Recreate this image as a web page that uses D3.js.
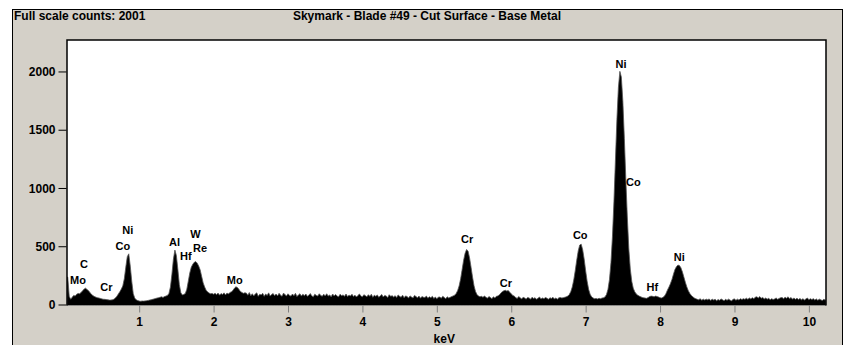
<!DOCTYPE html>
<html>
<head>
<meta charset="utf-8">
<script src="https://cdn.jsdelivr.net/npm/d3@7"></script>
<style>
  html, body { margin: 0; padding: 0; background: #fff; }
  svg text { font-family: "Liberation Sans Narrow", "Arial Narrow", "Liberation Sans", sans-serif; font-weight: bold; font-size: 12px; fill: #000; }
  svg .peak-label { font-size: 11px; }
</style>
</head>
<body>
<div id="chart"></div>
<script>
// EDS spectrum, channel width 0.02 keV starting at 0.04 keV (one row = 0.2 keV)
const kevStart = 0.04;
const kevStep = 0.02;
const counts = [
  235, 70, 45, 62, 78, 72, 88, 95, 92, 104,
  118, 132, 140, 128, 118, 100, 88, 75, 68, 62,
  58, 55, 52, 48, 45, 44, 42, 40, 38, 38,
  40, 45, 55, 70, 90, 110, 132, 160, 220, 320,
  410, 435, 330, 200, 95, 55, 40, 34, 30, 28,
  30, 29, 31, 33, 35, 38, 40, 44, 48, 52,
  55, 58, 62, 66, 61, 68, 72, 78, 95, 150,
  260, 390, 467, 420, 300, 170, 100, 82, 86, 95,
  130, 200, 270, 320, 345, 362, 368, 355, 330, 296,
  240, 185, 150, 122, 108, 98, 92, 95, 88, 96,
  84, 98, 80, 94, 86, 100, 82, 98, 90, 104,
  108, 122, 140, 152, 146, 130, 112, 104, 96, 100,
  98, 80, 102, 76, 92, 74, 90, 100, 70, 88,
  82, 96, 70, 90, 78, 100, 72, 86, 94, 76,
  90, 74, 96, 80, 70, 98, 84, 74, 92, 78,
  72, 90, 76, 96, 68, 82, 92, 72, 88, 76,
  90, 70, 80, 94, 74, 66, 88, 78, 72, 92,
  78, 70, 88, 74, 92, 72, 82, 66, 90, 74,
  86, 72, 66, 88, 76, 82, 70, 90, 68, 80,
  74, 88, 68, 80, 64, 78, 90, 72, 66, 84,
  76, 66, 84, 70, 88, 62, 80, 70, 82, 62,
  74, 86, 64, 78, 72, 60, 84, 70, 76, 64,
  76, 60, 82, 70, 62, 80, 58, 74, 68, 56,
  74, 64, 56, 78, 68, 58, 72, 54, 68, 62,
  60, 72, 54, 66, 58, 70, 52, 64, 50, 62,
  64, 54, 70, 60, 50, 66, 56, 62, 68, 74,
  80, 95, 120, 160, 220, 300, 380, 440, 472, 458,
  400, 320, 235, 160, 112, 85, 72, 66, 70, 62,
  72, 62, 54, 68, 60, 50, 66, 56, 70, 74,
  82, 98, 110, 118, 122, 115, 120, 105, 92, 78,
  72, 60, 52, 68, 58, 48, 62, 56, 46, 60,
  56, 46, 62, 52, 58, 44, 54, 64, 48, 56,
  50, 60, 54, 44, 58, 52, 62, 48, 56, 46,
  57, 60, 56, 59, 62, 66, 72, 85, 110, 150,
  210, 290, 380, 460, 510, 518, 470, 390, 290, 200,
  130, 88, 66, 56, 50, 52, 48, 53, 50, 55,
  57, 65, 86, 130, 214, 359, 581, 882, 1235, 1587,
  1863, 2001, 1951, 1744, 1426, 1073, 751, 480, 304, 198,
  139, 109, 91, 80, 72, 66, 61, 57, 55, 53,
  60, 68, 72, 70, 66, 72, 68, 64, 58, 56,
  62, 72, 95, 125, 150, 180, 215, 260, 300, 325,
  338, 335, 315, 280, 235, 190, 150, 118, 95, 78,
  66, 56, 50, 44, 40, 50, 36, 46, 38, 46,
  40, 48, 34, 46, 38, 44, 32, 42, 36, 48,
  40, 32, 44, 36, 46, 38, 30, 44, 48, 36,
  46, 38, 50, 42, 50, 44, 54, 44, 56, 48,
  58, 50, 62, 66, 56, 68, 54, 60, 48, 56,
  46, 54, 40, 50, 42, 48, 56, 44, 52, 58,
  60, 50, 62, 54, 66, 50, 60, 46, 56, 44,
  54, 42, 52, 40, 50, 38, 48, 56, 40, 50,
  42, 50, 38, 48, 36, 46, 40, 34, 44, 38
];

// element labels: [symbol, keV, counts at text baseline]
const peakLabels = [
  ["Mo", 0.178, 176],
  ["C", 0.259, 313],
  ["Cr", 0.56, 116],
  ["Ni", 0.847, 601],
  ["Co", 0.78, 468],
  ["Al", 1.475, 500],
  ["Hf", 1.627, 386],
  ["W", 1.757, 572],
  ["Re", 1.818, 448],
  ["Mo", 2.284, 180],
  ["Cr", 5.407, 532],
  ["Cr", 5.927, 150],
  ["Co", 6.927, 560],
  ["Ni", 7.475, 2032],
  ["Co", 7.64, 1021],
  ["Hf", 7.895, 114],
  ["Ni", 8.258, 372]
];

const yTicks = [0, 500, 1000, 1500, 2000];
const xTicks = [1, 2, 3, 4, 5, 6, 7, 8, 9, 10];
const fullScale = 2001;
const title = "Skymark - Blade #49 - Cut Surface - Base Metal";
const xLabel = "keV";

////////////////////////////////////////////////////////////////////////////////////

const width = 845;
const height = 345;
const plot = { left: 67, right: 826, top: 40, bottom: 304.5 };

const svg = d3.select("#chart").append("svg").attr("width", width).attr("height", height);

// grey window panel
svg.append("rect")
  .attr("x", 12.5).attr("y", 9.5)
  .attr("width", 830).attr("height", 340)
  .attr("fill", "#d4d0c8")
  .attr("stroke", "#000")
  .attr("stroke-width", 1);

svg.append("rect")
  .attr("x", plot.left).attr("y", plot.top)
  .attr("width", plot.right - plot.left).attr("height", plot.bottom - plot.top + 1)
  .attr("fill", "#fff");

const x = d3.scaleLinear().domain([0.03, 10.23]).range([plot.left, plot.right]);
const y = d3.scaleLinear().domain([0, 2270]).range([plot.bottom, plot.top]);

const spectrum = counts.map((c, i) => ({ kev: kevStart + i * kevStep, c: c }));

svg.append("clipPath").attr("id", "clip")
  .append("rect")
  .attr("x", plot.left).attr("y", plot.top)
  .attr("width", plot.right - plot.left).attr("height", plot.bottom - plot.top + 1);

const area = d3.area()
  .x((d) => x(d.kev))
  .y0(y(0) + 1)
  .y1((d) => y(d.c));

svg.append("path")
  .datum([{ kev: 0.03, c: counts[0] }].concat(spectrum, [{ kev: 10.23, c: counts[counts.length - 1] }]))
  .attr("clip-path", "url(#clip)")
  .attr("d", area)
  .attr("fill", "#000")
  .attr("stroke", "#555")
  .attr("stroke-width", 0.8);

// plot frame
svg.append("path")
  .attr("d", `M${plot.left},${plot.bottom + 1}V${plot.top}H${plot.right}V${plot.bottom + 1}`)
  .attr("fill", "none")
  .attr("stroke", "#000")
  .attr("stroke-width", 1.5);

////////////////////////////////////////////////////////////////////////////////////

const yAxis = svg.append("g")
  .attr("transform", `translate(${plot.left - 0.5},0)`)
  .call(d3.axisLeft(y).tickValues(yTicks).tickSize(8).tickPadding(3).tickFormat(d3.format("d")));
yAxis.select(".domain").remove();
yAxis.selectAll(".tick line").attr("stroke", "#000");
yAxis.selectAll(".tick text").attr("dy", "0.35em");

const xAxis = svg.append("g")
  .attr("transform", `translate(0,${plot.bottom + 1})`)
  .call(d3.axisBottom(x).tickValues(xTicks).tickSize(7).tickPadding(5).tickFormat(d3.format("d")));
xAxis.select(".domain").remove();
xAxis.selectAll(".tick line").attr("stroke", "#808080");

svg.append("text")
  .attr("x", x(5.1)).attr("y", 343)
  .attr("text-anchor", "middle")
  .text(xLabel);

svg.append("text")
  .attr("x", 14).attr("y", 20)
  .text("Full scale counts: " + fullScale);

svg.append("text")
  .attr("x", 427).attr("y", 20)
  .attr("text-anchor", "middle")
  .text(title);

svg.append("g")
  .selectAll("text")
  .data(peakLabels)
  .enter()
  .append("text")
  .attr("class", "peak-label")
  .attr("x", (d) => x(d[1]))
  .attr("y", (d) => y(d[2]))
  .attr("text-anchor", "middle")
  .text((d) => d[0]);
</script>
</body>
</html>
